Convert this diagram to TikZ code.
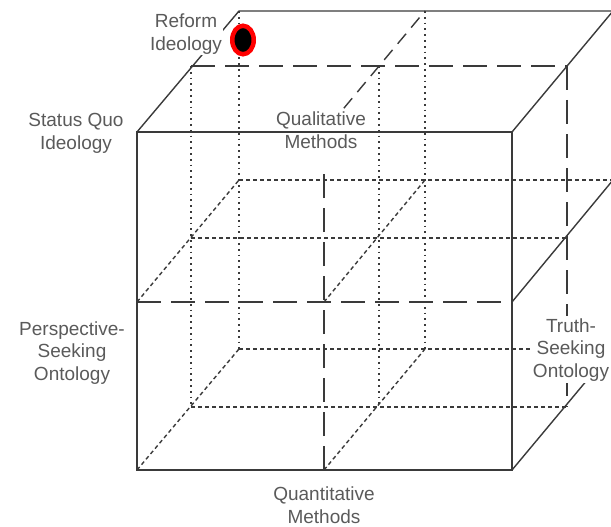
\documentclass[tikz,border=0pt]{standalone}
\usepackage{fontspec}
\setmainfont{Liberation Sans}
\usetikzlibrary{shapes.geometric}
\definecolor{linegray}{HTML}{3A3A3A}
\definecolor{textgray}{HTML}{5A5A5A}
\tikzstyle{edge} = [draw=linegray, line width=1.4pt]
\tikzstyle{axis} = [draw=linegray, line width=1.4pt, dash pattern=on 24pt off 10pt]
\tikzstyle{axisshort} = [draw=linegray, line width=1.4pt, dash pattern=on 13pt off 8pt]
\tikzstyle{hidden} = [draw=linegray, line width=1.4pt, dash pattern=on 4pt off 3pt]
\tikzstyle{pillar} = [draw=linegray, line width=1.7pt, dash pattern=on 1.8pt off 4pt]
\tikzstyle{tag} = [align=center, inner sep=1pt, text=textgray, font=\fontsize{19}{22.5}\selectfont]
\tikzstyle{marker} = [ellipse, draw=red, fill=black, line width=4.5pt, minimum width=21.5pt, minimum height=28.5pt, inner sep=0pt]

\begin{document}
\begin{tikzpicture}[x=1pt, y=-1pt]
\useasboundingbox (0,0) rectangle (611,527);
\clip (0,0) rectangle (611,527);
%front face
\coordinate (ftl) at (137,132);
\coordinate (ftc) at (324,132);
\coordinate (ftr) at (512,132);
\coordinate (fml) at (137,302);
\coordinate (fmc) at (324,302);
\coordinate (fmr) at (512,302);
\coordinate (fbl) at (137,470);
\coordinate (fbc) at (324,470);
\coordinate (fbr) at (512,470);
%middle layer
\coordinate (mtl) at (191,66);
\coordinate (mtc) at (379,66);
\coordinate (mtr) at (567,66);
\coordinate (mml) at (191,238);
\coordinate (mmr) at (567,238);
\coordinate (mbl) at (191,407);
\coordinate (mbc) at (379,407);
\coordinate (mbr) at (567,407);
%back face
\coordinate (btl) at (239,11);
\coordinate (btc) at (425,11);
\coordinate (btr) at (613,11);
\coordinate (bml) at (239,180);
\coordinate (bmc) at (425,180);
\coordinate (bmr) at (613,180);
\coordinate (bbl) at (239,349);
\coordinate (bbc) at (425,349);
\coordinate (bbr) at (613,349);

%hidden lines
\draw [pillar] (mtl) -- (mbl);
\draw [pillar] (btl) -- (bbl);
\draw [pillar] (mtc) -- (mbc);
\draw [pillar] (btc) -- (bbc);
\draw [hidden] (bml) -- (bmr);
\draw [hidden] (bbl) -- (bbr);
\draw [hidden] (mml) -- (mmr);
\draw [hidden] (mbl) -- (mbr);
\draw [hidden] (fml) -- (bml);
\draw [hidden] (fbl) -- (bbl);
\draw [hidden] (fmc) -- (bmc);
\draw [hidden] (fbc) -- (bbc);

%dividing planes
\draw [axis] (fml) -- (fmr);
\draw [axis, shorten >=35pt] (fbc) -- (ftc);
\draw [axis] (mtl) -- (mtr);
\draw [axisshort, shorten <=31pt] (ftc) -- (btc);
\draw [axis] (mtr) -- (mbr);
\draw [edge] (fmr) -- (bmr);

%cube edges
\draw [edge] (ftl) -- (ftr) -- (fbr) -- (fbl) -- cycle;
\draw [edge] (ftl) -- (btl) -- (btr) -- (ftr);
\draw [edge] (fbr) -- (bbr);

%labels
\node (reform) [tag, fill=white] at (186,34.3) {Reform\\Ideology};
\node (statusquo) [tag] at (76,133.3) {Status Quo\\Ideology};
\node (qual) [tag] at (321,130.4) {Qualitative\\Methods};
\node (persp) [tag] at (72,352.6) {Perspective-\\Seeking\\Ontology};
\node (truth) [tag, fill=white, inner sep=2pt] at (571,349.6) {Truth-\\Seeking\\Ontology};
\node (quant) [tag] at (324,505) {Quantitative\\Methods};
\node (dot) [marker] at (243,40) {};
\end{tikzpicture}
\end{document}
